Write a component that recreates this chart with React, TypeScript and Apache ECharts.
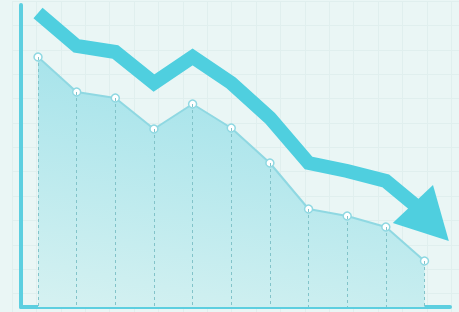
import { useEffect, useRef } from 'react';
import * as echarts from 'echarts';

// point index along the x axis
const xIndex = [0, 1, 2, 3, 4, 5, 6, 7, 8, 9, 10];
// area series (white markers)
const areaValues = [250, 215, 209, 178, 203, 179, 144, 98, 91, 80, 46];
// thick downward trend arrow
const trendX = [0, 1, 2, 3, 4, 5, 6, 7, 8, 9, 9.75];
const trendValues = [294, 261, 255, 224, 250, 224, 189, 144, 136, 126, 102];
// arrow head triangle (data coordinates)
const arrowHeadX = [9.18, 10.22, 10.63];
const arrowHeadY = [84, 122, 66];

export default function App() {
  const ref = useRef<HTMLDivElement>(null);
  useEffect(() => {
    const chart = echarts.init(ref.current!, null, { renderer: 'svg' });
    const hidden = { show: false };
    chart.setOption({
      animation: false,
      backgroundColor: '#eaf6f5',
      grid: [
        { left: 12, right: 0, top: 1, bottom: 0 },
        { left: 21, right: 9, top: 5, bottom: 5 },
      ],
      xAxis: [
        {
          gridIndex: 0, type: 'value', min: 0, max: 18.32, interval: 1,
          axisLine: hidden, axisTick: hidden, axisLabel: hidden,
          splitLine: { show: true, lineStyle: { color: '#e0efee', width: 1 } },
        },
        {
          gridIndex: 1, type: 'value', min: -0.44, max: 10.66,
          axisLine: { show: true, onZero: false, lineStyle: { color: '#5dcfe0', width: 4 } },
          axisTick: hidden, axisLabel: hidden, splitLine: hidden,
        },
      ],
      yAxis: [
        {
          gridIndex: 0, type: 'value', min: 0, max: 12.75, interval: 1, inverse: true,
          axisLine: hidden, axisTick: hidden, axisLabel: hidden,
          splitLine: { show: true, lineStyle: { color: '#e0efee', width: 1 } },
        },
        {
          gridIndex: 1, type: 'value', min: 0, max: 302,
          axisLine: { show: true, onZero: false, lineStyle: { color: '#5dcfe0', width: 4 } },
          axisTick: hidden, axisLabel: hidden, splitLine: hidden,
        },
      ],
      series: [
        {
          type: 'line',
          xAxisIndex: 1, yAxisIndex: 1,
          data: xIndex.map((x, i) => [x, areaValues[i]]),
          symbol: 'circle',
          symbolSize: 8,
          itemStyle: { color: '#ffffff', borderColor: '#8fd8e2', borderWidth: 1.5 },
          lineStyle: { color: '#8fd8e2', width: 2 },
          areaStyle: {
            color: new echarts.graphic.LinearGradient(0.4, 0, 0.1, 1, [
              { offset: 0, color: '#a2e2ea' },
              { offset: 1, color: '#d4f1f1' },
            ]),
            opacity: 1,
          },
          markLine: {
            silent: true,
            symbol: ['none', 'none'],
            label: { show: false },
            lineStyle: { color: '#82c3c9', type: [3, 3], width: 1 },
            data: xIndex.map((x, i) => [{ coord: [x, areaValues[i]] }, { coord: [x, 0] }]),
          },
          z: 2,
        },
        {
          type: 'line',
          xAxisIndex: 1, yAxisIndex: 1,
          data: trendX.map((x, i) => [x, trendValues[i]]),
          symbol: 'none',
          lineStyle: { color: '#4fcfdf', width: 14, cap: 'butt', join: 'miter' },
          z: 3,
        },
        {
          type: 'custom',
          xAxisIndex: 1, yAxisIndex: 1,
          data: [[arrowHeadX[0], arrowHeadY[0]]],
          renderItem: (_params: any, api: any) => {
            const points = arrowHeadX.map((x, i) => api.coord([x, arrowHeadY[i]]));
            return { type: 'polygon', shape: { points }, style: { fill: '#4fcfdf' } };
          },
          z: 4,
        },
      ],
    });
    return () => chart.dispose();
  }, []);
  return (
    <div
      ref={ref}
      style={{ position: 'fixed', left: 0, top: 0, width: 459, height: 312 }}
    />
  );
}
